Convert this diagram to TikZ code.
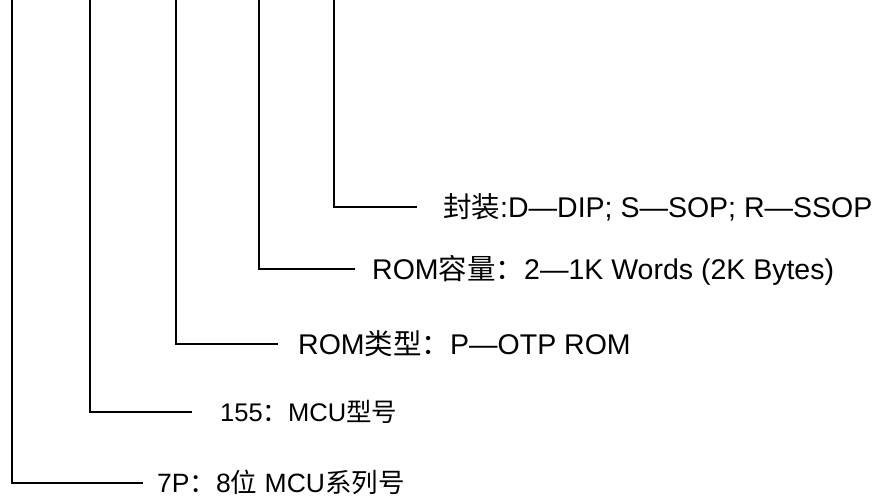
\documentclass[tikz,border=0pt]{standalone}
\usepackage{fontspec}
\setmainfont{Liberation Sans}
\newfontfamily\cjk{Noto Sans CJK SC}
\begin{document}
\begin{tikzpicture}[x=1pt,y=-1pt,
  lbl/.style={anchor=base west,inner sep=0pt},
  big/.style={lbl,font=\fontsize{28.5}{33}\selectfont},
  mid/.style={lbl,font=\fontsize{26.5}{30}\selectfont},
  small/.style={lbl,font=\fontsize{25.5}{29}\selectfont},
  lead/.style={line width=2.2pt,line join=miter}]
\useasboundingbox (0,0) rectangle (887,499);
% top ends
\coordinate (t1) at (12,0);
\coordinate (t2) at (90,0);
\coordinate (t3) at (176,0);
\coordinate (t4) at (259,0);
\coordinate (t5) at (334,0);
% free ends
\coordinate (e1) at (143,483);
\coordinate (e2) at (192,412);
\coordinate (e3) at (278,344);
\coordinate (e4) at (355,269);
\coordinate (e5) at (417,207);
% labels
\node[mid] (l1) at (157,492.5) {7P{\cjk ：}8{\cjk 位} MCU{\cjk 系列号}};
\node[small] (l2) at (220,421.1) {155{\cjk ：}MCU{\cjk 型号}};
\node[big] (l3) at (298,354.2) {ROM{\cjk 类型：}P—OTP ROM};
\node[big] (l4) at (372,279.2) {ROM{\cjk 容量：}2—1K Words (2K Bytes)};
\node[big] (l5) at (443,217.2) {{\cjk 封装}:D—DIP; S—SOP; R—SSOP};
% leaders
\draw[lead] (t1) |- (e1);
\draw[lead] (t2) |- (e2);
\draw[lead] (t3) |- (e3);
\draw[lead] (t4) |- (e4);
\draw[lead] (t5) |- (e5);
\end{tikzpicture}
\end{document}
